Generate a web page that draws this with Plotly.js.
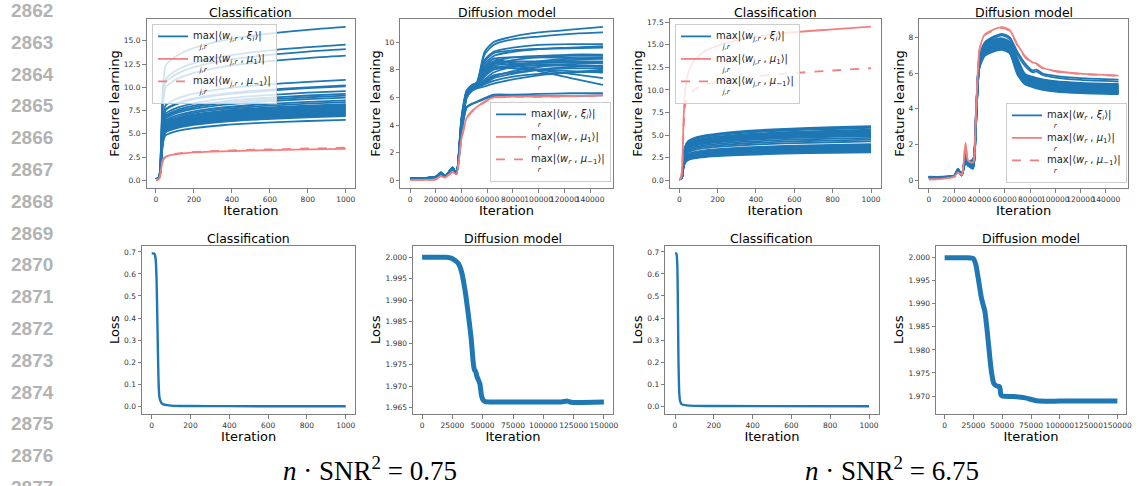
<!DOCTYPE html>
<html>
<head>
<meta charset="utf-8">
<script src="https://cdn.plot.ly/plotly-3.0.1.min.js"></script>
<style>html,body{margin:0;padding:0;background:#fff;}#chart{width:1139px;height:486px;}</style>
</head>
<body>
<div id="chart"></div>
<script>
// ---------------- DATA ----------------
const lineNumbers = [2862,2863,2864,2865,2866,2867,2868,2869,2870,2871,2872,2873,2874,2875,2876,2877];
const captions = ["<i>n</i> · SNR<sup>2</sup> = 0.75", "<i>n</i> · SNR<sup>2</sup> = 6.75"];
const panelTitles = ["Classification","Diffusion model","Classification","Diffusion model"];
const legendClassifMain = ["max|⟨<i>w</i><sub><i>j,r</i></sub> , <i>ξ<sub>i</sub></i>⟩|",
                           "max|⟨<i>w</i><sub><i>j,r</i></sub> , <i>μ</i><sub>1</sub>⟩|",
                           "max|⟨<i>w</i><sub><i>j,r</i></sub> , <i>μ</i><sub>−1</sub>⟩|"];
const legendDiffMain = ["max|⟨<i>w<sub>r</sub></i> , <i>ξ<sub>i</sub></i>⟩|",
                        "max|⟨<i>w<sub>r</sub></i> , <i>μ</i><sub>1</sub>⟩|",
                        "max|⟨<i>w<sub>r</sub></i> , <i>μ</i><sub>−1</sub>⟩|"];
const legendClassifUnder = "j,r";
const legendDiffUnder = "r";

// Panel 1: classification, n*SNR^2 = 0.75
const cls1Iter = [0,12,20,28,36,50,75,120,200,350,550,800,1000];
const cls1Noise = [
[0.15,0.25,0.8,4.95,9.9,12.3,12.87,13.53,14.24,15.03,15.66,16.19,16.5],
[0.14,0.22,0.75,4.38,8.76,10.88,11.39,11.97,12.6,13.3,13.86,14.32,14.6],
[0.13,0.22,0.72,4.23,8.46,10.5,11.0,11.56,12.17,12.85,13.38,13.83,14.1],
[0.15,0.24,0.7,4.02,8.04,9.98,10.45,10.99,11.56,12.21,12.72,13.15,13.4],
[0.12,0.2,0.65,3.24,6.48,8.05,8.42,8.86,9.32,9.84,10.25,10.59,10.8],
[0.13,0.2,0.62,3.06,6.12,7.6,7.96,8.36,8.8,9.29,9.68,10.0,10.2],
[0.11,0.19,0.6,3.03,6.06,7.52,7.88,8.28,8.72,9.2,9.58,9.91,10.1],
[0.12,0.2,0.6,2.88,5.76,7.15,7.49,7.87,8.28,8.75,9.11,9.42,9.6],
[0.14,0.21,0.58,2.79,5.58,6.93,7.25,7.63,8.03,8.47,8.83,9.12,9.3],
[0.1,0.18,0.57,2.73,5.46,6.78,7.1,7.46,7.85,8.29,8.64,8.93,9.1],
[0.12,0.2,0.56,2.67,5.34,6.63,6.94,7.3,7.68,8.11,8.45,8.73,8.9],
[0.13,0.2,0.55,2.58,5.16,6.41,6.71,7.05,7.42,7.83,8.16,8.44,8.6],
[0.11,0.18,0.54,2.52,5.04,6.26,6.55,6.89,7.25,7.65,7.97,8.24,8.4],
[0.12,0.19,0.53,2.46,4.92,6.11,6.4,6.72,7.08,7.47,7.78,8.04,8.2],
[0.14,0.2,0.52,2.43,4.86,6.03,6.32,6.64,6.99,7.38,7.69,7.95,8.1],
[0.1,0.17,0.52,2.4,4.8,5.96,6.24,6.56,6.9,7.29,7.59,7.85,8.0],
[0.12,0.18,0.51,2.37,4.74,5.89,6.16,6.48,6.82,7.2,7.5,7.75,7.9],
[0.13,0.19,0.5,2.34,4.68,5.81,6.08,6.4,6.73,7.11,7.4,7.65,7.8],
[0.11,0.18,0.5,2.31,4.62,5.74,6.01,6.31,6.65,7.01,7.31,7.55,7.7],
[0.12,0.2,0.49,2.28,4.56,5.66,5.93,6.23,6.56,6.92,7.21,7.46,7.6],
[0.1,0.17,0.48,2.25,4.5,5.59,5.85,6.15,6.47,6.83,7.12,7.36,7.5],
[0.13,0.19,0.48,2.22,4.44,5.51,5.77,6.07,6.39,6.74,7.02,7.26,7.4],
[0.11,0.18,0.47,2.19,4.38,5.44,5.69,5.99,6.3,6.65,6.93,7.16,7.3],
[0.12,0.18,0.46,2.16,4.32,5.36,5.62,5.9,6.21,6.56,6.83,7.06,7.2],
[0.1,0.17,0.46,2.13,4.26,5.29,5.54,5.82,6.13,6.47,6.74,6.97,7.1],
[0.12,0.19,0.45,2.1,4.2,5.22,5.46,5.74,6.04,6.38,6.64,6.87,7.0],
[0.11,0.18,0.44,2.07,4.14,5.14,5.38,5.66,5.95,6.29,6.55,6.77,6.9],
[0.1,0.16,0.42,1.95,3.9,4.84,5.07,5.33,5.61,5.92,6.17,6.38,6.5]
];
const cls1MuPos = [0.05,0.08,0.3,1.3,2.1,2.5,2.7,2.85,3.0,3.12,3.22,3.32,3.38];
const cls1MuNeg = [0.05,0.08,0.3,1.35,2.15,2.55,2.75,2.9,3.05,3.18,3.3,3.42,3.5];

// Panel 2: diffusion, n*SNR^2 = 0.75
const dif1Iter = [0,10000,20000,24000,27000,30000,33000,36000,40000,44000,48000,52000,58000,65000,80000,100000,125000,150000];
const dif1Noise = [
[0.18,0.17,0.27,0.58,0.32,0.6,0.95,0.52,4.6,6.5,6.9,7.1,9.3,10.0,10.4,10.7,10.9,11.1],
[0.16,0.16,0.26,0.56,0.31,0.58,0.93,0.5,4.5,6.4,6.85,7.05,9.1,9.8,10.2,10.4,10.6,10.7],
[0.15,0.15,0.25,0.55,0.3,0.56,0.9,0.5,4.3,6.4,6.8,7.0,8.7,9.3,9.6,9.8,9.85,9.85],
[0.14,0.15,0.24,0.54,0.3,0.55,0.9,0.5,4.2,6.3,6.75,6.95,8.4,9.0,9.3,9.5,9.6,9.7],
[0.15,0.16,0.25,0.56,0.31,0.57,0.92,0.51,4.4,6.35,6.8,7.0,8.6,9.2,9.4,9.5,9.55,9.6],
[0.13,0.14,0.23,0.53,0.29,0.54,0.88,0.49,4.0,6.25,6.7,6.9,8.0,8.6,8.9,9.0,9.1,9.1],
[0.14,0.15,0.24,0.54,0.3,0.55,0.89,0.5,3.9,6.2,6.65,6.85,7.8,8.4,8.7,8.9,9.0,9.0],
[0.16,0.16,0.26,0.57,0.31,0.58,0.93,0.52,4.3,6.4,6.8,7.0,8.2,8.8,8.9,8.9,8.85,8.8],
[0.13,0.14,0.23,0.52,0.29,0.53,0.87,0.48,3.7,6.1,6.6,6.8,7.3,7.8,8.2,8.5,8.7,8.8],
[0.15,0.15,0.25,0.55,0.3,0.56,0.9,0.5,4.1,6.3,6.75,6.95,7.9,8.5,8.6,8.6,8.6,8.6],
[0.14,0.14,0.24,0.54,0.3,0.55,0.89,0.49,4.0,6.25,6.7,6.9,7.8,8.3,8.4,8.5,8.5,8.5],
[0.12,0.13,0.22,0.51,0.28,0.52,0.86,0.47,3.6,6.05,6.55,6.75,7.1,7.5,7.9,8.2,8.4,8.5],
[0.14,0.15,0.24,0.54,0.3,0.55,0.89,0.5,3.9,6.2,6.65,6.85,7.5,8.0,8.2,8.3,8.3,8.3],
[0.15,0.16,0.25,0.56,0.31,0.57,0.91,0.51,4.2,6.35,6.8,7.0,8.0,8.6,8.5,8.4,8.3,8.2],
[0.13,0.14,0.23,0.52,0.29,0.53,0.87,0.48,3.7,6.1,6.6,6.8,7.2,7.6,7.8,8.0,8.1,8.1],
[0.14,0.15,0.24,0.54,0.3,0.55,0.89,0.5,4.0,6.25,6.7,6.9,7.7,8.2,8.1,8.0,7.9,7.8],
[0.12,0.13,0.22,0.5,0.28,0.52,0.85,0.47,3.5,6.0,6.5,6.7,6.95,7.2,7.5,7.7,7.8,7.9],
[0.15,0.15,0.25,0.55,0.3,0.56,0.9,0.5,4.1,6.3,6.75,6.95,7.9,8.5,8.3,8.0,7.7,7.4],
[0.16,0.16,0.26,0.57,0.31,0.58,0.93,0.52,4.3,6.4,6.8,7.0,8.2,8.8,8.4,7.9,7.4,6.9],
[0.12,0.13,0.22,0.5,0.28,0.51,0.85,0.46,3.4,5.95,6.45,6.65,6.8,7.0,7.3,7.6,7.8,8.0],
[0.13,0.14,0.23,0.52,0.29,0.53,0.87,0.48,3.7,6.1,6.6,6.8,7.0,7.4,7.7,8.0,8.2,8.3],
[0.15,0.15,0.25,0.55,0.3,0.56,0.9,0.5,4.1,6.3,6.75,6.95,7.6,8.1,8.3,8.6,8.8,8.9],
[0.12,0.12,0.2,0.46,0.28,0.5,0.8,0.45,3.5,5.3,5.55,5.7,5.95,6.2,6.2,6.25,6.3,6.3],
[0.11,0.12,0.2,0.45,0.27,0.49,0.78,0.44,3.4,5.25,5.5,5.65,5.9,6.1,6.1,6.1,6.1,6.15]
];
const dif1MuPos = [0.02,0.03,0.08,0.3,0.2,0.4,0.6,0.45,3.0,4.5,5.0,5.3,5.7,6.0,6.05,6.05,6.1,6.15];
const dif1MuNeg = [0.02,0.03,0.08,0.28,0.2,0.38,0.58,0.44,2.9,4.45,4.95,5.25,5.65,5.97,6.03,6.04,6.08,6.13];

// Panel 3: classification, n*SNR^2 = 6.75
const cls2Iter = [0,8,15,22,30,45,70,120,200,350,550,800,1000];
const cls2Noise = [
[0.15,0.2,0.6,2.7,3.72,4.32,4.62,4.92,5.16,5.46,5.7,5.88,6.0],
[0.14,0.2,0.58,2.66,3.66,4.25,4.54,4.84,5.07,5.37,5.61,5.78,5.9],
[0.13,0.19,0.57,2.61,3.6,4.18,4.47,4.76,4.99,5.28,5.51,5.68,5.8],
[0.15,0.2,0.56,2.52,3.47,4.03,4.31,4.59,4.82,5.1,5.32,5.49,5.6],
[0.12,0.18,0.55,2.48,3.41,3.96,4.24,4.51,4.73,5.01,5.23,5.39,5.5],
[0.14,0.19,0.54,2.43,3.35,3.89,4.16,4.43,4.64,4.91,5.13,5.29,5.4],
[0.13,0.18,0.53,2.39,3.29,3.82,4.08,4.35,4.56,4.82,5.04,5.19,5.3],
[0.12,0.18,0.52,2.34,3.22,3.74,4.0,4.26,4.47,4.73,4.94,5.1,5.2],
[0.14,0.19,0.51,2.3,3.16,3.67,3.93,4.18,4.39,4.64,4.85,5.0,5.1],
[0.11,0.17,0.5,2.25,3.1,3.6,3.85,4.1,4.3,4.55,4.75,4.9,5.0],
[0.13,0.18,0.5,2.21,3.04,3.53,3.77,4.02,4.21,4.46,4.66,4.8,4.9],
[0.12,0.18,0.48,2.12,2.91,3.38,3.62,3.85,4.04,4.28,4.47,4.61,4.7],
[0.14,0.19,0.47,2.03,2.79,3.24,3.47,3.69,3.87,4.1,4.28,4.41,4.5],
[0.11,0.17,0.46,1.94,2.67,3.1,3.31,3.53,3.7,3.91,4.09,4.21,4.3],
[0.12,0.17,0.44,1.8,2.48,2.88,3.08,3.28,3.44,3.64,3.8,3.92,4.0],
[0.13,0.18,0.43,1.76,2.42,2.81,3.0,3.2,3.35,3.55,3.71,3.82,3.9],
[0.11,0.16,0.42,1.71,2.36,2.74,2.93,3.12,3.27,3.46,3.61,3.72,3.8],
[0.12,0.17,0.42,1.69,2.33,2.7,2.89,3.08,3.23,3.41,3.56,3.68,3.75],
[0.14,0.18,0.41,1.67,2.29,2.66,2.85,3.03,3.18,3.37,3.52,3.63,3.7],
[0.11,0.16,0.4,1.62,2.23,2.59,2.77,2.95,3.1,3.28,3.42,3.53,3.6],
[0.12,0.17,0.4,1.6,2.2,2.56,2.73,2.91,3.05,3.23,3.37,3.48,3.55],
[0.13,0.17,0.39,1.58,2.17,2.52,2.7,2.87,3.01,3.19,3.33,3.43,3.5],
[0.1,0.15,0.39,1.55,2.14,2.48,2.66,2.83,2.97,3.14,3.28,3.38,3.45],
[0.12,0.16,0.38,1.53,2.11,2.45,2.62,2.79,2.92,3.09,3.23,3.33,3.4],
[0.11,0.16,0.38,1.51,2.08,2.41,2.58,2.75,2.88,3.05,3.18,3.28,3.35],
[0.13,0.17,0.37,1.49,2.05,2.38,2.54,2.71,2.84,3.0,3.14,3.23,3.3],
[0.1,0.15,0.36,1.44,1.98,2.3,2.46,2.62,2.75,2.91,3.04,3.14,3.2],
[0.11,0.15,0.35,1.4,1.92,2.23,2.39,2.54,2.67,2.82,2.95,3.04,3.1]
];
const cls2MuPos = [0.1,0.2,1.5,6.5,9.8,11.8,13.0,14.1,14.9,15.7,16.3,16.7,17.0];
const cls2MuNeg = [0.1,0.2,1.3,5.5,8.2,9.3,9.9,10.5,10.9,11.4,11.8,12.15,12.4];

// Panel 4: diffusion, n*SNR^2 = 6.75
const dif2Iter = [0,10000,20000,23000,26000,29000,31000,35000,37000,40000,44000,50000,58000,64000,70000,76000,82000,85000,90000,100000,120000,150000];
const dif2Noise = [
[0.2,0.2,0.26,0.65,0.32,1.55,1.05,1.2,3.5,6.9,7.7,8.0,8.2,8.0,7.2,6.55,6.15,6.2,5.98,5.85,5.72,5.64],
[0.19,0.19,0.26,0.62,0.31,1.5,1.0,1.15,3.4,6.85,7.65,7.92,8.12,7.9,7.05,6.4,6.05,6.1,5.9,5.75,5.62,5.53],
[0.18,0.18,0.25,0.6,0.3,1.4,1.0,1.1,3.3,6.95,7.6,7.83,7.95,7.75,6.83,5.95,5.8,5.73,5.65,5.55,5.46,5.4],
[0.17,0.18,0.25,0.58,0.3,1.35,0.95,1.05,3.2,6.9,7.55,7.78,7.9,7.7,6.75,5.9,5.75,5.68,5.6,5.5,5.41,5.35],
[0.18,0.18,0.24,0.6,0.29,1.3,1.0,0.9,3.1,6.85,7.5,7.73,7.85,7.65,6.68,5.85,5.7,5.63,5.55,5.45,5.36,5.3],
[0.16,0.17,0.24,0.55,0.3,1.25,0.9,1.0,3.2,6.8,7.45,7.68,7.8,7.6,6.6,5.8,5.65,5.58,5.5,5.4,5.31,5.25],
[0.17,0.17,0.25,0.57,0.29,1.2,0.95,0.85,3.0,6.75,7.4,7.63,7.75,7.55,6.53,5.75,5.6,5.53,5.45,5.35,5.26,5.2],
[0.18,0.18,0.24,0.6,0.3,1.35,1.0,1.1,3.1,6.7,7.35,7.58,7.7,7.5,6.45,5.7,5.55,5.48,5.4,5.3,5.21,5.15],
[0.16,0.17,0.23,0.54,0.28,1.15,0.9,0.8,2.9,6.65,7.3,7.53,7.65,7.45,6.38,5.65,5.5,5.43,5.35,5.25,5.16,5.1],
[0.17,0.18,0.25,0.58,0.3,1.3,0.95,1.0,3.0,6.6,7.25,7.48,7.6,7.4,6.3,5.6,5.45,5.38,5.3,5.2,5.11,5.05],
[0.16,0.16,0.23,0.55,0.28,1.1,0.85,0.75,2.8,6.55,7.2,7.43,7.55,7.35,6.23,5.55,5.4,5.33,5.25,5.15,5.06,5.0],
[0.17,0.17,0.24,0.56,0.29,1.2,0.9,0.95,2.9,6.5,7.15,7.38,7.5,7.3,6.17,5.52,5.37,5.3,5.22,5.12,5.03,4.97],
[0.15,0.16,0.23,0.53,0.28,1.05,0.85,0.7,2.7,6.45,7.1,7.33,7.45,7.25,6.1,5.48,5.33,5.26,5.18,5.08,4.99,4.93],
[0.16,0.17,0.24,0.55,0.29,1.15,0.9,0.9,2.8,6.4,7.05,7.28,7.4,7.2,6.05,5.45,5.3,5.23,5.15,5.05,4.96,4.9],
[0.15,0.16,0.23,0.52,0.28,1.0,0.8,0.75,2.6,6.35,7.0,7.23,7.35,7.15,5.99,5.41,5.26,5.19,5.11,5.01,4.92,4.86],
[0.16,0.16,0.22,0.54,0.27,1.1,0.85,0.65,2.6,6.3,6.95,7.18,7.3,7.1,5.92,5.37,5.22,5.15,5.07,4.97,4.88,4.82],
[0.17,0.17,0.24,0.57,0.29,1.25,0.95,1.0,3.0,6.45,7.1,7.33,7.45,7.25,6.28,5.65,5.5,5.43,5.35,5.25,5.16,5.1],
[0.18,0.18,0.25,0.59,0.3,1.3,1.0,1.05,3.1,6.6,7.25,7.48,7.6,7.4,6.2,5.5,5.35,5.28,5.2,5.1,5.01,4.95],
[0.17,0.17,0.24,0.57,0.29,1.2,0.9,0.95,3.0,6.7,7.35,7.58,7.7,7.5,6.6,5.85,5.7,5.63,5.55,5.45,5.36,5.3],
[0.16,0.17,0.24,0.56,0.29,1.15,0.9,0.9,2.9,6.5,7.15,7.38,7.5,7.3,6.4,5.75,5.6,5.53,5.45,5.35,5.26,5.2],
[0.15,0.16,0.23,0.53,0.28,1.05,0.85,0.8,2.7,6.35,7.0,7.23,7.35,7.15,6.13,5.55,5.4,5.33,5.25,5.15,5.06,5.0],
[0.17,0.18,0.25,0.58,0.3,1.3,0.95,1.05,3.1,6.8,7.45,7.68,7.8,7.6,6.25,5.45,5.3,5.23,5.15,5.05,4.96,4.9]
];
const dif2MuPos = [0.05,0.08,0.2,0.45,0.3,2.1,1.1,1.0,3.3,7.3,8.15,8.4,8.57,8.4,7.6,6.95,6.6,6.55,6.3,6.12,5.97,5.86];
const dif2MuNeg = [0.05,0.08,0.2,0.45,0.3,2.0,1.1,1.0,3.3,7.25,8.1,8.35,8.52,8.35,7.55,6.9,6.55,6.5,6.27,6.1,5.95,5.84];

// Loss curves
const cls1LossIter = [0,10,15,20,25,30,35,40,50,60,80,100,150,200,400,1000];
const cls1Loss = [0.693,0.693,0.69,0.67,0.58,0.35,0.12,0.04,0.015,0.009,0.005,0.003,0.0015,0.001,0.0005,0.0002];
const dif1LossIter = [0,10000,20000,24000,27000,30000,32500,35500,38000,40500,42300,43200,44300,45300,46500,47700,49000,50500,52000,60000,80000,100000,115000,120000,122000,125000,150000];
const dif1Loss = [2.0000,2.0000,2.0000,1.9998,1.9993,1.9985,1.9967,1.9922,1.9870,1.9811,1.9752,1.9738,1.9733,1.9722,1.9714,1.9705,1.9678,1.9667,1.9664,1.9663,1.9663,1.9663,1.9663,1.9665,1.9663,1.9662,1.9663];
const cls2LossIter = [0,5,8,12,15,18,22,26,32,40,60,100,200,1000];
const cls2Loss = [0.693,0.693,0.69,0.64,0.45,0.2,0.06,0.025,0.012,0.007,0.004,0.002,0.001,0.0002];
const dif2LossIter = [0,10000,20000,25000,27200,29200,32000,35000,37000,39400,40800,42700,45000,47800,48800,50000,60000,70000,76000,82000,100000,125000,150000];
const dif2Loss = [2.0000,2.0000,2.0000,1.9998,1.9984,1.9955,1.9912,1.9883,1.9840,1.9780,1.9750,1.9727,1.9722,1.9720,1.9703,1.9700,1.9699,1.9696,1.9692,1.9689,1.9689,1.9689,1.9689];

// ---------------- STYLE / LAYOUT ----------------
const W = 1139, H = 486;
const BLUE = '#1f77b4', RED = '#f08080';
const FONT = 'DejaVu Sans';
const traces = [];

function legendLabel(main, under) {
  return '<span style="font-size:10px">' + main + '</span><br>' +
         '<span style="font-size:7px">&nbsp;&nbsp;&nbsp;<i>' + under + '</i></span>';
}
const labelsClassif = legendClassifMain.map(m => legendLabel(m, legendClassifUnder));
const labelsDiff = legendDiffMain.map(m => legendLabel(m, legendDiffUnder));

function feature(idx, xs, noise, muP, muN, labels, legendId) {
  const xa = 'x' + (idx === 1 ? '' : idx), ya = 'y' + (idx === 1 ? '' : idx);
  noise.forEach((ys, k) => traces.push({
    x: xs, y: ys, xaxis: xa, yaxis: ya, type: 'scatter', mode: 'lines',
    line: {color: BLUE, width: 1.8, shape: 'spline', smoothing: 0.6},
    name: labels[0], showlegend: k === 0, legend: legendId, hoverinfo: 'skip'
  }));
  traces.push({x: xs, y: muP, xaxis: xa, yaxis: ya, type: 'scatter', mode: 'lines',
    line: {color: RED, width: 1.8, shape: 'spline', smoothing: 0.6}, name: labels[1], showlegend: true, legend: legendId});
  traces.push({x: xs, y: muN, xaxis: xa, yaxis: ya, type: 'scatter', mode: 'lines',
    line: {color: RED, width: 1.8, dash: 'dash', shape: 'spline', smoothing: 0.6}, name: labels[2], showlegend: true, legend: legendId});
}
function loss(idx, xs, ys, width) {
  traces.push({x: xs, y: ys, xaxis: 'x' + idx, yaxis: 'y' + idx, type: 'scatter', mode: 'lines',
    line: {color: BLUE, width: width, shape: 'spline', smoothing: 0.5}, showlegend: false});
}
feature(1, cls1Iter, cls1Noise, cls1MuPos, cls1MuNeg, labelsClassif, 'legend');
feature(2, dif1Iter, dif1Noise, dif1MuPos, dif1MuNeg, labelsDiff, 'legend2');
feature(3, cls2Iter, cls2Noise, cls2MuPos, cls2MuNeg, labelsClassif, 'legend3');
feature(4, dif2Iter, dif2Noise, dif2MuPos, dif2MuNeg, labelsDiff, 'legend4');
loss(5, cls1LossIter, cls1Loss, 2.4);
loss(6, dif1LossIter, dif1Loss, 5);
loss(7, cls2LossIter, cls2Loss, 2.4);
loss(8, dif2LossIter, dif2Loss, 5);

// pixel boxes [left, right, top, bottom]
const boxes = [
  [146.5, 355.2, 19, 188], [400.4, 612.6, 19, 188], [669.7, 880.6, 19, 188], [919.4, 1128, 19, 188],
  [142, 355.4, 245.7, 414], [413, 613, 245.7, 414], [665.3, 878.7, 245.7, 414], [936, 1126, 245.7, 414]
];
const yRanges = [[-0.83, 17.35], [-0.55, 11.67], [-0.85, 17.85], [-0.43, 9.03],
                 [-0.035, 0.728], [1.9635, 2.0027], [-0.035, 0.728], [1.9661, 2.0026]];
const yTicks = [[2.5, '.1f'], [2, 'd'], [2.5, '.1f'], [2, 'd'], [0.1, '.1f'], [0.005, '.3f'], [0.1, '.1f'], [0.005, '.3f']];
const xRanges = [[-50, 1050], [-7500, 157500], [-50, 1050], [-7500, 157500], [-50, 1050], [-7500, 157500], [-50, 1050], [-7500, 157500]];
const xDticks = [200, 20000, 200, 20000, 200, 25000, 200, 25000];
const yTitles = ['Feature learning', 'Feature learning', 'Feature learning', 'Feature learning', 'Loss', 'Loss', 'Loss', 'Loss'];

const layout = {
  width: W, height: H, margin: {l: 0, r: 0, t: 0, b: 0},
  paper_bgcolor: '#fff', plot_bgcolor: '#fff', showlegend: true,
  font: {family: FONT, color: '#000'}, annotations: []
};
const axisCommon = {
  showline: true, mirror: true, linecolor: '#7f7f7f', linewidth: 1, ticks: 'outside', ticklen: 3.5,
  tickcolor: '#7f7f7f', tickwidth: 1, showgrid: false, zeroline: false, tickangle: 0,
  tickfont: {family: FONT, size: 7.5, color: '#333'}, fixedrange: true, exponentformat: 'none'
};
boxes.forEach((b, i) => {
  const n = i + 1, s = n === 1 ? '' : n;
  layout['xaxis' + s] = Object.assign({}, axisCommon, {
    domain: [b[0] / W, b[1] / W], range: xRanges[i], dtick: xDticks[i], tick0: 0, tickformat: 'd',
    anchor: 'y' + s, title: {text: 'Iteration', font: {family: FONT, size: 13}, standoff: 0}
  });
  layout['yaxis' + s] = Object.assign({}, axisCommon, {
    domain: [1 - b[3] / H, 1 - b[2] / H], range: yRanges[i], dtick: yTicks[i][0], tick0: 0,
    tickformat: yTicks[i][1], anchor: 'x' + s,
    title: {text: yTitles[i], font: {family: FONT, size: 13}, standoff: 1}
  });
  layout.annotations.push({
    text: panelTitles[i % 4], xref: 'paper', yref: 'paper', x: (b[0] + b[1]) / 2 / W,
    y: 1 - (b[2] - 7) / H, xanchor: 'center', yanchor: 'middle', showarrow: false,
    font: {family: FONT, size: 12.5, color: '#000'}
  });
});

const legendCommon = {bgcolor: 'rgba(255,255,255,0.8)', bordercolor: '#cccccc', borderwidth: 1,
  font: {family: FONT, size: 7.5, color: '#222'}, tracegroupgap: 0, itemwidth: 30, traceorder: 'normal', valign: 'top'};
layout.legend = Object.assign({}, legendCommon, {x: 152 / W, y: 1 - 24 / H, xanchor: 'left', yanchor: 'top'});
layout.legend2 = Object.assign({}, legendCommon, {x: 611 / W, y: 1 - 182 / H, xanchor: 'right', yanchor: 'bottom'});
layout.legend3 = Object.assign({}, legendCommon, {x: 675 / W, y: 1 - 24 / H, xanchor: 'left', yanchor: 'top'});
layout.legend4 = Object.assign({}, legendCommon, {x: 1127 / W, y: 1 - 183 / H, xanchor: 'right', yanchor: 'bottom'});

lineNumbers.forEach((num, k) => layout.annotations.push({
  text: '<b>' + num + '</b>', xref: 'paper', yref: 'paper', x: 32 / W, y: 1 - (10.5 + 31.8 * k) / H,
  xanchor: 'center', yanchor: 'middle', showarrow: false,
  font: {family: 'Liberation Sans', size: 19, color: '#b3b3b3'}
}));
[370, 892].forEach((cx, k) => layout.annotations.push({
  text: captions[k], xref: 'paper', yref: 'paper', x: cx / W, y: 1 - 469 / H,
  xanchor: 'center', yanchor: 'middle', showarrow: false,
  font: {family: 'Liberation Serif', size: 27, color: '#000'}
}));

Plotly.newPlot('chart', traces, layout, {staticPlot: true, displayModeBar: false});
</script>
</body>
</html>
